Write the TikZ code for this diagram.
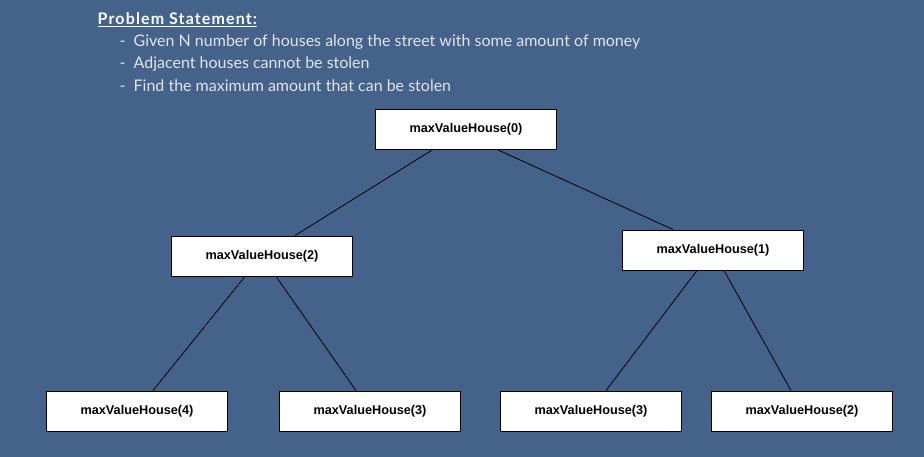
\documentclass[tikz,border=0pt]{standalone}
\usepackage{fontspec}
\setmainfont{Lato}
\setsansfont{Liberation Sans}
\usepackage{tikz}
\usetikzlibrary{arrows}
\definecolor{slide}{RGB}{68,98,138}
\definecolor{pale}{RGB}{226,228,232}

\begin{document}
\begin{tikzpicture}[x=1pt,y=-1pt,thick,
                    main node/.style={rectangle,draw=black,fill=white,line width=0.9pt,
                      minimum width=181pt,minimum height=40pt,inner sep=0pt,
                      font=\sffamily\bfseries\fontsize{12.7}{14}\selectfont},
                    line/.style={draw=black,line width=0.8pt}]

  \useasboundingbox (0,0) rectangle (924,457);
  \fill[slide] (0,0) rectangle (924,457);

  % problem statement
  \node[anchor=west,text=white,font=\bfseries\fontsize{16}{18}\selectfont\addfontfeature{LetterSpace=7}] (title) at (94,20) {\underline{Problem Statement:}};
  \node[anchor=west,text=pale,font=\fontsize{16}{18}\selectfont] (b1) at (116,42) {-\hspace{8pt}Given N number of houses along the street with some amount of money};
  \node[anchor=west,text=pale,font=\fontsize{16}{18}\selectfont] (b2) at (116,64) {-\hspace{8pt}Adjacent houses cannot be stolen};
  \node[anchor=west,text=pale,font=\fontsize{16}{18}\selectfont] (b3) at (116,86) {-\hspace{8pt}Find the maximum amount that can be stolen};

  % recursion tree
  \node[main node] (h0) at (466,129) {maxValueHouse(0)};
  \node[main node] (h2) at (262,256) {maxValueHouse(2)};
  \node[main node] (h1) at (713,250) {maxValueHouse(1)};
  \node[main node] (h4) at (137,411) {maxValueHouse(4)};
  \node[main node] (h3a) at (370,411) {maxValueHouse(3)};
  \node[main node] (h3b) at (591,411) {maxValueHouse(3)};
  \node[main node] (h2b) at (802,411) {maxValueHouse(2)};

  \path[line]
    ([xshift=-33pt]h0.south) edge ([xshift=33pt]h2.north)
    ([xshift=31pt]h0.south) edge ([xshift=-40pt]h1.north)
    ([xshift=-17pt]h2.south) edge ([xshift=16pt]h4.north)
    ([xshift=14pt]h2.south) edge ([xshift=-14pt]h3a.north)
    ([xshift=-16pt]h1.south) edge ([xshift=15pt]h3b.north)
    ([xshift=11pt]h1.south) edge ([xshift=-11pt]h2b.north)
;
\end{tikzpicture}
\end{document}
